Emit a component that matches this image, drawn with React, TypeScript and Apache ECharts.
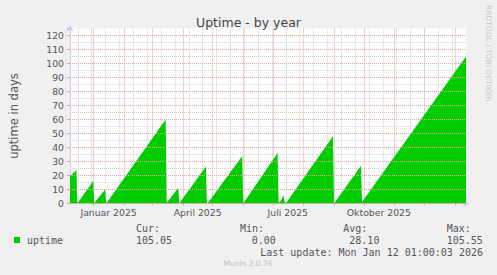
import React, { useEffect, useRef } from "react";
import * as echarts from "echarts";

const TITLE = "Uptime - by year";
const Y_NAME = "uptime in days";
const SERIES_NAME = "uptime";

const X_MIN = "2024-12-08 01:00:03";
const X_MAX = "2026-01-12 01:00:03";

const UPTIME_TIMES = [
  "2024-12-08 01:00", "2024-12-14 12:00", "2024-12-15 12:00",
  "2024-12-31 12:00", "2025-01-01 12:00", "2025-01-02 00:00",
  "2025-01-12 12:00", "2025-01-13 16:00",
  "2025-03-14 16:00", "2025-03-15 16:00",
  "2025-03-27 12:00", "2025-03-28 08:00",
  "2025-04-24 08:00", "2025-04-25 08:00", "2025-04-26 00:00",
  "2025-05-31 00:00", "2025-06-01 00:00",
  "2025-07-05 17:00", "2025-07-06 17:00", "2025-07-08 12:00",
  "2025-07-11 17:00", "2025-07-13 00:00", "2025-07-14 12:00",
  "2025-08-30 17:00", "2025-08-31 17:00",
  "2025-09-28 00:00", "2025-09-29 00:00",
  "2026-01-12 01:00",
];
const UPTIME_VALUES = [
  19.3, 24, 0,
  16, 0.3, 0,
  10, 0,
  60, 0.5,
  11, 0,
  26.5, 0.5, 0,
  34, 0,
  36, 0.5, 1.5,
  5.5, 1, 0.5,
  48, 0,
  27, 1,
  105.05,
];

const MONTH_STARTS = [
  "2025-01-01", "2025-02-01", "2025-03-01", "2025-04-01", "2025-05-01",
  "2025-06-01", "2025-07-01", "2025-08-01", "2025-09-01", "2025-10-01",
  "2025-11-01", "2025-12-01", "2026-01-01",
];
const BIWEEKLY = [
  "2024-12-16", "2024-12-30", "2025-01-13", "2025-01-27", "2025-02-10",
  "2025-02-24", "2025-03-10", "2025-03-24", "2025-04-07", "2025-04-21",
  "2025-05-05", "2025-05-19", "2025-06-02", "2025-06-16", "2025-06-30",
  "2025-07-14", "2025-07-28", "2025-08-11", "2025-08-25", "2025-09-08",
  "2025-09-22", "2025-10-06", "2025-10-20", "2025-11-03", "2025-11-17",
  "2025-12-01", "2025-12-15", "2025-12-29",
];
const LABEL_DATES = ["2025-01-16", "2025-04-16", "2025-07-16", "2025-10-16"];
const LABEL_NAMES = ["Januar 2025", "April 2025", "Juli 2025", "Oktober 2025"];

const Y_MIN = 0;
const Y_MAX = 125;
const Y_TICKS = [0, 10, 20, 30, 40, 50, 60, 70, 80, 90, 100, 110, 120];
const Y_MAJOR_STEP = 10;

const STAT_LABELS = ["Cur:", "Min:", "Avg:", "Max:"];
const STAT_VALUES = ["105.05", "0.00", "28.10", "105.55"];
const LAST_UPDATE = "Last update: Mon Jan 12 01:00:03 2026";
const VERSION = "Munin 2.0.76";
const WATERMARK = "RRDTOOL / TOBI OETIKER";

const ts = (s: string) => new Date(s.length <= 10 ? s + "T00:00:00" : s.replace(" ", "T")).getTime();

const FONT = "DejaVu Sans";
const MONO = "DejaVu Sans Mono";
const GREEN = "#00CC00";
const MAJOR = "#E8A0A0";
const MINOR = "#D0D0D0";
const AXIS = "#C8CCF4";
const TEXT = "#555555";

export default function App() {
  const ref = useRef<HTMLDivElement>(null);
  useEffect(() => {
    if (!ref.current) return;
    const chart = echarts.init(ref.current, undefined, { renderer: "svg" });
    const labelTs = LABEL_DATES.map(ts);
    const statLabelX = [136, 240, 343.3, 446.7];
    const statValueX = [136, 251.7, 349.3, 446.7];
    const graphic: any[] = [];
    STAT_LABELS.forEach((t, i) => {
      graphic.push({
        type: "text", x: statLabelX[i], y: 228,
        style: { text: t, fill: TEXT, font: `10px "${MONO}"`, align: "left", verticalAlign: "middle" },
      });
      graphic.push({
        type: "text", x: statValueX[i], y: 240,
        style: { text: STAT_VALUES[i], fill: TEXT, font: `10px "${MONO}"`, align: "left", verticalAlign: "middle" },
      });
    });
    graphic.push({
      type: "text", x: 483, y: 252,
      style: { text: LAST_UPDATE, fill: TEXT, font: `10px "${MONO}"`, align: "right", verticalAlign: "middle" },
    });
    graphic.push({
      type: "text", x: 248, y: 263,
      style: { text: VERSION, fill: "#C0C0C0", font: `7.5px "${FONT}"`, align: "center", verticalAlign: "middle" },
    });
    graphic.push({
      type: "text", x: 488, y: 5, rotation: -Math.PI / 2,
      style: { text: WATERMARK, fill: "#C8C8C8", font: `7.5px "${FONT}"`, align: "left", verticalAlign: "middle" },
    });

    chart.setOption({
      animation: false,
      backgroundColor: "#F0F0F0",
      title: {
        text: TITLE, left: "center", top: 11,
        textStyle: { fontFamily: FONT, fontSize: 12.5, fontWeight: "normal", color: "#444" },
      },
      legend: {
        data: [SERIES_NAME], left: 14, top: 235, padding: 0,
        itemWidth: 6, itemHeight: 6, icon: "rect",
        textStyle: { fontFamily: MONO, fontSize: 10, color: TEXT, padding: [0, 0, 0, 2] },
      },
      grid: {
        left: 66, right: 31, top: 28.5, bottom: 71.5,
        show: true, backgroundColor: "#FFFFFF", borderWidth: 0,
      },
      xAxis: [
        {
          type: "value", min: ts(X_MIN), max: ts(X_MAX), position: "bottom",
          axisLine: {
            show: true, onZero: false, lineStyle: { color: AXIS },
            symbol: ["none", "arrow"], symbolSize: [6, 6], symbolOffset: [0, 3],
          },
          axisTick: {
            show: true, inside: false, length: 2,
            customValues: MONTH_STARTS.map(ts), lineStyle: { color: MAJOR },
          },
          axisLabel: {
            customValues: labelTs,
            formatter: (v: number) => {
              let best = 0;
              labelTs.forEach((t, i) => { if (Math.abs(t - v) < Math.abs(labelTs[best] - v)) best = i; });
              return LABEL_NAMES[best];
            },
            fontFamily: FONT, fontSize: 9.3, color: TEXT, margin: 4,
          },
          splitLine: { show: true, lineStyle: { color: MAJOR, type: [1, 1], width: 1 } },
        },
        {
          type: "value", min: ts(X_MIN), max: ts(X_MAX), position: "bottom",
          axisLine: { show: false },
          axisTick: { show: false, customValues: BIWEEKLY.map(ts) },
          axisLabel: { show: false },
          splitLine: { show: true, lineStyle: { color: MINOR, type: [1, 1], width: 1 } },
        },
      ],
      yAxis: [
        {
          type: "value", min: Y_MIN, max: Y_MAX, interval: Y_MAJOR_STEP, position: "left",
          name: Y_NAME, nameLocation: "middle", nameGap: 50, nameRotate: 90,
          nameTextStyle: { fontFamily: FONT, fontSize: 11.5, color: TEXT },
          axisLine: {
            show: true, lineStyle: { color: AXIS },
            symbol: ["none", "arrow"], symbolSize: [6, 6], symbolOffset: [0, 3],
          },
          axisTick: { show: true, length: 3, lineStyle: { color: MAJOR } },
          axisLabel: {
            customValues: Y_TICKS,
            fontFamily: FONT, fontSize: 9.3, color: TEXT, margin: 6,
          },
          splitLine: { show: false },
        },
        {
          // minor grid: same scale, inverted, so its ticks fall on the odd multiples of 5
          type: "value", min: Y_MIN, max: Y_MAX, interval: Y_MAJOR_STEP, inverse: true, position: "left",
          axisLine: { show: false }, axisTick: { show: false }, axisLabel: { show: false },
          splitLine: { show: true, showMinLine: false, lineStyle: { color: MINOR, type: [1, 1], width: 1 } },
        },
      ],
      series: [
        {
          name: "major-grid", type: "line", xAxisIndex: 0, yAxisIndex: 0,
          data: [], z: 1, silent: true,
          markLine: {
            silent: true, symbol: ["none", "none"], animation: false,
            label: { show: false },
            lineStyle: { color: MAJOR, type: [1, 1], width: 1 },
            emphasis: { disabled: true },
            data: Y_TICKS.map((v) => ({ yAxis: v })),
          },
        },
        {
          name: SERIES_NAME, type: "line", xAxisIndex: 0, yAxisIndex: 0,
          data: UPTIME_TIMES.map((t, i) => [ts(t), UPTIME_VALUES[i]]),
          symbol: "none", showSymbol: false,
          lineStyle: { width: 0, color: GREEN },
          itemStyle: { color: GREEN },
          areaStyle: { color: GREEN, opacity: 1 },
          z: 2,
        },
      ],
      graphic,
    });
    return () => chart.dispose();
  }, []);
  return <div ref={ref} style={{ width: 497, height: 275, position: "absolute", left: 0, top: 0 }} />;
}
